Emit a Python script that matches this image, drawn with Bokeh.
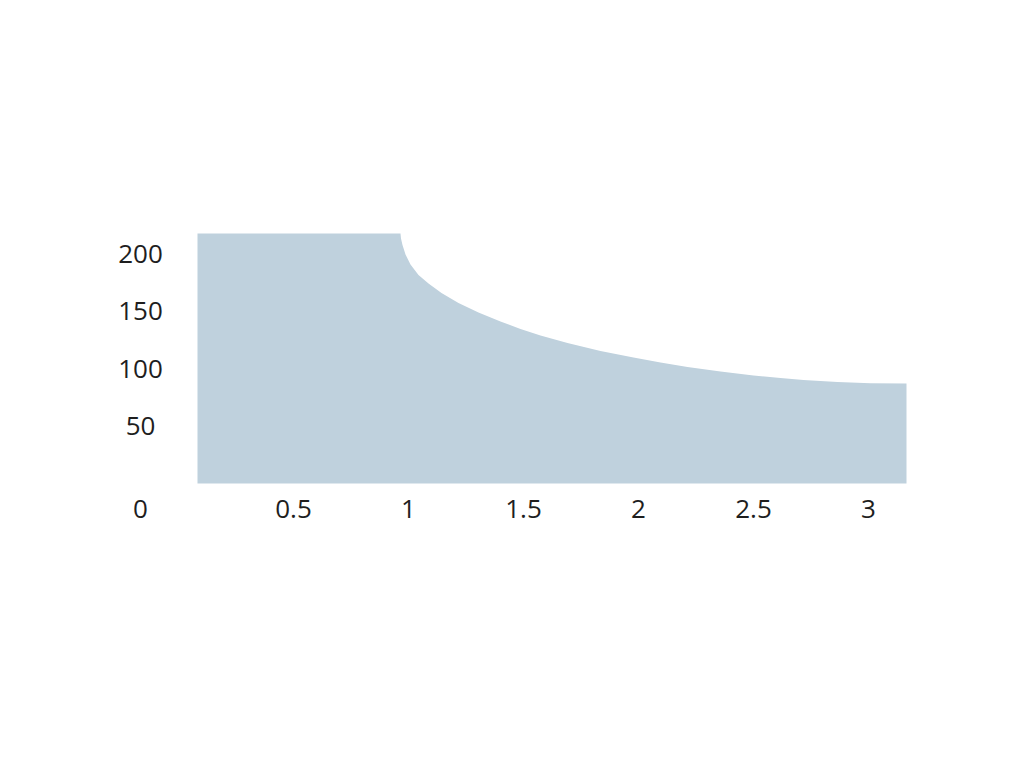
from bokeh.plotting import figure
from bokeh.models import ColumnDataSource
from bokeh.core.properties import value
from bokeh.embed import file_html
from bokeh.resources import INLINE

# Area outline (x, y)
x_vals = [0.0826, 0.9652, 0.9674, 0.9739, 0.9870, 1.0087, 1.0435, 1.0870, 1.1435,
          1.2174, 1.3043, 1.4000, 1.4870, 1.5739, 1.6913, 1.8348, 1.9783, 2.0957,
          2.2130, 2.3565, 2.5000, 2.6174, 2.7174, 2.8652, 3.0087, 3.1652]
y_vals = [217.39, 217.39, 213.04, 207.39, 199.13, 190.43, 181.30, 173.91, 165.65,
          156.96, 148.70, 140.87, 134.35, 128.70, 122.17, 115.22, 109.57, 105.22,
          101.30, 97.39, 93.91, 91.74, 90.00, 88.26, 87.22, 86.96]

x_ticks = [0.5, 1, 1.5, 2, 2.5, 3]
x_tick_labels = ["0.5", "1", "1.5", "2", "2.5", "3"]
y_ticks = [50, 100, 150, 200]
y_tick_labels = ["50", "100", "150", "200"]
origin_label = "0"

FONT = value("Open Sans")
FONT_SIZE = "26px"
TEXT_COLOR = "#1e1e1e"
FILL = "#bfd1dd"

p = figure(width=1008, height=752, x_range=(-0.7739, 3.6087), y_range=(-233.91, 420.0),
           x_axis_type=None, y_axis_type=None, toolbar_location=None,
           output_backend="svg", min_border=0)
p.outline_line_color = None
p.grid.visible = False
p.background_fill_color = "white"
p.border_fill_color = "white"

area_src = ColumnDataSource(dict(x=x_vals, y1=[0] * len(x_vals), y2=y_vals))
p.varea(x="x", y1="y1", y2="y2", source=area_src, fill_color=FILL, fill_alpha=1.0)

left_x = x_vals[0]

# y tick labels (centred column left of the area)
ysrc = ColumnDataSource(dict(x=[left_x] * len(y_ticks), y=y_ticks, t=y_tick_labels))
p.text(x="x", y="y", text="t", source=ysrc, x_offset=-57, text_align="center",
       text_baseline="middle", text_font=FONT, text_font_size=FONT_SIZE, text_color=TEXT_COLOR)

# origin label in the corner
osrc = ColumnDataSource(dict(x=[left_x], y=[0], t=[origin_label]))
p.text(x="x", y="y", text="t", source=osrc, x_offset=-57, y_offset=25, text_align="center",
       text_baseline="middle", text_font=FONT, text_font_size=FONT_SIZE, text_color=TEXT_COLOR)

# x tick labels below the baseline
xsrc = ColumnDataSource(dict(x=x_ticks, y=[0] * len(x_ticks), t=x_tick_labels))
p.text(x="x", y="y", text="t", source=xsrc, y_offset=25, text_align="center",
       text_baseline="middle", text_font=FONT, text_font_size=FONT_SIZE, text_color=TEXT_COLOR)

open("out.html", "w").write(file_html(p, INLINE))
